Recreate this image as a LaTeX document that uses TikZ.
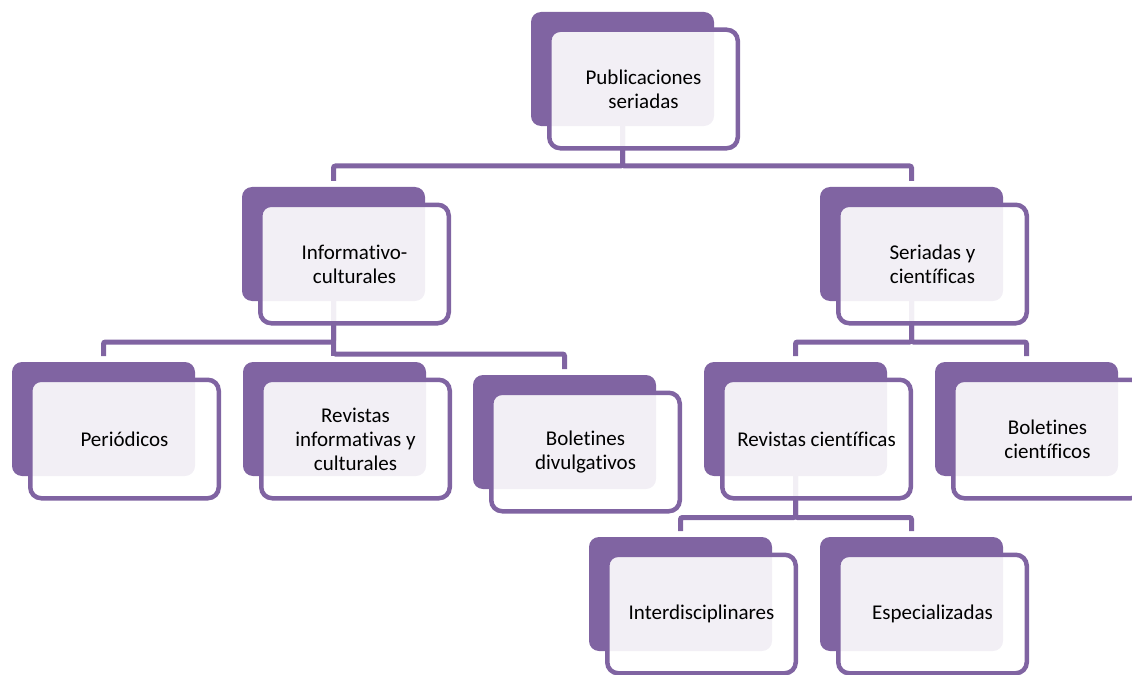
\documentclass[tikz,border=0pt]{standalone}
\usepackage{fontspec}
\setmainfont{Carlito}[Ligatures=NoCommon]
\usetikzlibrary{calc,backgrounds}
\definecolor{accent}{HTML}{8064A2}

% one chart entry: a solid tab behind a framed, translucent card with the label
\newcommand\orgitem[4]{%
  \node[backbox] (#1-b) at (#2,#3) {};
  \node[frontbox] (#1) at ($(#1-b.north west)+(16,15.5)$) {#4};
}

\begin{document}
\begin{tikzpicture}[x=1bp,y=-1bp,
  backbox/.style={fill=accent, rounded corners=10bp, minimum width=183bp,
    minimum height=114bp, inner sep=0pt, outer sep=0pt, anchor=north west},
  frontbox/.style={draw=accent, line width=4.5bp, fill=white, fill opacity=0.9,
    text opacity=1, rounded corners=11bp, minimum width=188.5bp,
    minimum height=118.5bp, inner sep=0pt, outer sep=2.25bp, anchor=north west,
    align=center, text=black, font=\fontsize{21bp}{24bp}\selectfont},
  conn/.style={draw=accent, line width=5bp, rounded corners=2bp}]
\useasboundingbox (0,0) rectangle (1132,675);
\clip (0,0) rectangle (1132,675);

% bar levels of the elbow connectors
\coordinate (ytop) at (0,166);
\coordinate (ya) at (0,342);
\coordinate (yb) at (0,354);
\coordinate (yc) at (0,517.5);

\orgitem{pub}{531}{12}{Publicaciones\\seriadas}
\orgitem{inf}{242}{187}{Informativo-\\culturales}
\orgitem{sci}{820}{187}{Seriadas y\\científicas}
\orgitem{per}{12}{362}{Periódicos}
\orgitem{rin}{243}{362}{Revistas\\informativas y\\culturales}
\orgitem{bdv}{473}{375}{Boletines\\divulgativos}
\orgitem{rci}{704}{362}{Revistas científicas}
\orgitem{bci}{935}{362}{Boletines\\científicos}
\orgitem{int}{589}{537}{Interdisciplinares}
\orgitem{esp}{820}{537}{Especializadas}

\begin{scope}[on background layer]
  \draw[conn] (pub-b.south) -- (pub-b.south |- ytop) -| ($(inf-b.north)+(0,-6)$);
  \draw[conn] (pub-b.south) -- (pub-b.south |- ytop) -| ($(sci-b.north)+(0,-6)$);

  \draw[conn] (inf-b.south) -- (inf-b.south |- ya) -| ($(per-b.north)+(0,-6)$);
  \draw[conn] (inf-b.south) -- ($(inf-b.south |- rin-b.north)+(0,-6)$);
  \draw[conn] (inf-b.south) -- (inf-b.south |- yb) -| ($(bdv-b.north)+(0,-6)$);

  \draw[conn] (sci-b.south) -- (sci-b.south |- ya) -| ($(rci-b.north)+(0,-6)$);
  \draw[conn] (sci-b.south) -- (sci-b.south |- ya) -| ($(bci-b.north)+(0,-6)$);

  \draw[conn] (rci-b.south) -- (rci-b.south |- yc) -| ($(int-b.north)+(0,-6)$);
  \draw[conn] (rci-b.south) -- (rci-b.south |- yc) -| ($(esp-b.north)+(0,-6)$);
\end{scope}
\end{tikzpicture}
\end{document}
